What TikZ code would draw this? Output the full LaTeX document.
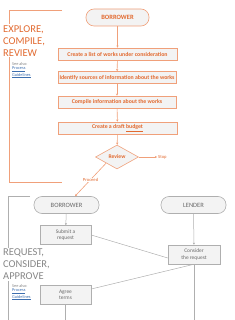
\documentclass[tikz,border=0pt]{standalone}
\usepackage{fontspec}
\setmainfont{Carlito}
\usetikzlibrary{arrows.meta,shapes.geometric}
\definecolor{otext}{RGB}{226,106,48}
\definecolor{oline}{RGB}{240,160,122}
\definecolor{gline}{RGB}{175,175,175}
\definecolor{gtext}{RGB}{105,105,105}
\definecolor{bfill}{RGB}{243,243,243}
\definecolor{linkc}{RGB}{60,110,175}
\tikzset{
  obox/.style={draw=oline, fill=bfill, line width=0.6pt, text=otext, font=\fontsize{5.8}{6.5}\selectfont\bfseries, inner sep=0pt, minimum height=12pt},
  ostad/.style={draw=oline, fill=bfill, line width=0.6pt, rounded corners=8pt, text=otext, font=\fontsize{6.5}{7}\selectfont\bfseries, minimum width=63pt, minimum height=17pt, inner sep=0pt},
  gstad/.style={draw=gline, fill=bfill, line width=0.6pt, rounded corners=8pt, text=gtext, font=\fontsize{6.5}{7}\selectfont, minimum width=65pt, minimum height=17pt, inner sep=0pt},
  gbox/.style={draw=gline, fill=bfill, line width=0.5pt, text=gtext, font=\fontsize{5.4}{6.4}\selectfont, align=center, minimum width=51pt, minimum height=19pt, inner sep=0pt},
  oarr/.style={draw=oline, line width=0.6pt, -{Stealth[length=2.2pt,width=2.2pt]}},
  garr/.style={draw=gline, line width=0.5pt, -{Stealth[length=2.2pt,width=2.2pt]}},
  gln/.style={draw=gline, line width=0.5pt},
  otitle/.style={anchor=north west, fill=white, text=otext, font=\fontsize{10.5}{12}\selectfont, align=left, inner sep=1pt},
  gtitle/.style={anchor=north west, fill=white, text=gtext!80, font=\fontsize{10.5}{12}\selectfont, align=left, inner sep=1pt},
  seealso/.style={anchor=north west, font=\fontsize{4.3}{4.8}\selectfont, align=left, inner sep=0pt},
  lbl/.style={text=otext, font=\fontsize{4.6}{5}\selectfont, inner sep=0.5pt}
}
\begin{document}
\begin{tikzpicture}[x=1pt,y=-1pt]
\useasboundingbox (0,0) rectangle (234,320);
% top bracket
\draw[oline, line width=0.6pt] (62,10) -- (9,10) -- (9,182) -- (62,182);
\node[otitle] (t1) at (2,24) {EXPLORE,\\COMPILE,\\REVIEW};
\node[seealso] (s1) at (12,62) {\textcolor{gtext!80}{See also:}\\\textcolor{linkc}{\underline{Process}}\\\textcolor{linkc}{\underline{Guidelines}}};
% top flow
\node[ostad] (b1) at (117.5,17.5) {BORROWER};
\node[obox, minimum width=119pt] (c1) at (117.5,54) {Create a list of works under consideration};
\node[obox, minimum width=118pt] (c2) at (117,77.5) {Identify sources of information about the works};
\node[obox, minimum width=118pt] (c3) at (117,102) {Compile information about the works};
\node[obox, minimum width=119pt] (c4) at (117.5,128) {Create a draft \underline{budget}};
\node[diamond, draw=oline, fill=bfill, line width=0.6pt, minimum width=43pt, minimum height=24pt, inner sep=0pt, text=otext, font=\fontsize{5.6}{6}\selectfont\bfseries] (rv) at (117,157) {Review};
\coordinate (stp) at (157,157);
\node[lbl, anchor=west] (stoplbl) at (157.5,157) {Stop};
\draw[oarr] (b1) -- (c1);
\draw[oarr] (c1) -- (c2);
\draw[oarr] (c2) -- (c3);
\draw[oarr] (c3) -- (c4);
\draw[oarr] (c4) -- (rv);
\draw[oarr] (rv.east) -- (stp);
% bottom
\node[gstad] (b2) at (66.5,205) {BORROWER};
\node[gstad] (ld) at (193.5,205) {LENDER};
\draw[oarr] (rv.south west) -- node[lbl, fill=white] (pr) {Proceed} (b2.north -| 75,0);
\draw[gln] (30,196) -- (8,196) -- (8,320);
\node[gtitle] (t2) at (2,247.5) {REQUEST,\\CONSIDER,\\APPROVE};
\node[seealso] (s2) at (12,284) {\textcolor{gtext!80}{See also:}\\\textcolor{linkc}{\underline{Process}}\\\textcolor{linkc}{\underline{Guidelines}}};
\node[gbox] (sb) at (65.5,235) {Submit a\\request};
\node[gbox, minimum width=52pt] (cs) at (194,254.5) {Consider\\the request};
\node[gbox] (ag) at (65.5,294.5) {Agree\\terms};
\coordinate (e1) at (65.5,320);
\coordinate (e2) at (194,320);
\draw[garr] (b2) -- (sb);
\draw[garr] (ld) -- (cs);
\draw[gln] (sb.east) -- (cs.west |- 0,258);
\draw[gln] (cs.south) -- (ag.east |- 0,289);
\draw[gln] (ag) -- (e1);
\draw[gln] (cs) -- (e2);
\end{tikzpicture}
\end{document}
